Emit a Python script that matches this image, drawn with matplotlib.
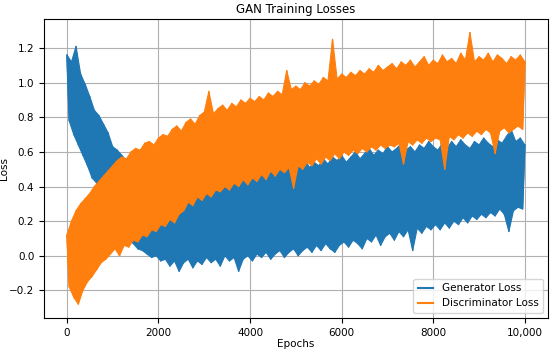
import numpy as np
import matplotlib
matplotlib.use("Agg")
from matplotlib import pyplot as plt

# envelope values
# peaks at epochs 0, 100, ..., 10000 ; troughs at 50, 150, ..., 9950
peak_epochs = np.arange(0, 10001, 100)
trough_epochs = np.arange(50, 10000, 100)

gen_peaks = [1.16, 1.12, 1.21, 1.05, 0.99, 0.92, 0.84, 0.81, 0.76, 0.71,
             0.63, 0.61, 0.58, 0.55, 0.53, 0.50, 0.49, 0.47, 0.45, 0.44,
             0.43, 0.40, 0.42, 0.39, 0.41, 0.43, 0.38, 0.42, 0.40, 0.44,
             0.41, 0.43, 0.46, 0.42, 0.44, 0.47, 0.43, 0.45, 0.48, 0.44,
             0.46, 0.49, 0.45, 0.58, 0.47, 0.50, 0.48, 0.51, 0.49, 0.53,
             0.50, 0.52, 0.55, 0.51, 0.54, 0.52, 0.56, 0.53, 0.57, 0.55,
             0.58, 0.54, 0.57, 0.60, 0.56, 0.59, 0.62, 0.58, 0.61, 0.59,
             0.63, 0.60, 0.62, 0.65, 0.61, 0.63, 0.60, 0.64, 0.62, 0.66,
             0.63, 0.61, 0.65, 0.62, 0.66, 0.63, 0.67, 0.64, 0.62, 0.66,
             0.64, 0.68, 0.65, 0.63, 0.67, 0.65, 0.69, 0.73, 0.66, 0.68,
             0.64]
gen_troughs = [0.78, 0.70, 0.64, 0.58, 0.52, 0.45, 0.42, 0.38, 0.34, 0.30,
               0.25, 0.20, 0.16, 0.11, 0.07, 0.04, 0.03, 0.01, -0.01, 0.00,
               -0.03, -0.02, -0.06, -0.03, -0.09, -0.04, -0.02, -0.07, -0.03, -0.05,
               -0.01, -0.04, -0.02, -0.06, 0.00, -0.03, -0.01, -0.09, -0.02, 0.00,
               -0.03, 0.01, -0.01, 0.02, -0.02, 0.01, 0.03, -0.01, 0.02, 0.04,
               0.00, 0.03, 0.05, 0.02, 0.06, 0.03, 0.07, 0.04, 0.02, 0.06,
               0.08, 0.05, 0.09, 0.07, 0.04, 0.10, 0.08, 0.12, 0.06, 0.11,
               0.13, 0.09, 0.14, 0.11, 0.15, 0.03, 0.16, 0.13, 0.17, 0.15,
               0.18, 0.15, 0.19, 0.16, 0.20, 0.18, 0.22, 0.19, 0.23, 0.21,
               0.24, 0.22, 0.25, 0.23, 0.27, 0.24, 0.14, 0.26, 0.28, 0.27]

disc_peaks = [0.12, 0.20, 0.26, 0.30, 0.33, 0.36, 0.40, 0.43, 0.46, 0.49,
              0.52, 0.55, 0.57, 0.56, 0.60, 0.62, 0.61, 0.65, 0.66, 0.64,
              0.68, 0.70, 0.69, 0.73, 0.75, 0.72, 0.77, 0.79, 0.76, 0.81,
              0.83, 0.95, 0.82, 0.85, 0.87, 0.84, 0.88, 0.86, 0.90, 0.88,
              0.91, 0.89, 0.92, 0.90, 0.94, 0.92, 0.95, 0.93, 1.07, 0.96,
              0.98, 0.96, 1.00, 0.98, 1.01, 0.99, 1.03, 1.01, 1.25, 1.02,
              1.05, 1.03, 1.06, 1.04, 1.07, 1.05, 1.08, 1.06, 1.10, 1.07,
              1.09, 1.11, 1.08, 1.12, 1.10, 1.13, 1.09, 1.12, 1.15, 1.10,
              1.13, 1.11, 1.16, 1.12, 1.14, 1.11, 1.17, 1.13, 1.29, 1.12,
              1.15, 1.13, 1.17, 1.12, 1.16, 1.14, 1.11, 1.15, 1.13, 1.16,
              1.12]
disc_troughs = [-0.18, -0.24, -0.28, -0.20, -0.15, -0.12, -0.08, -0.04, -0.02, 0.01,
                0.04, 0.00, 0.06, 0.05, 0.09, 0.08, 0.12, 0.11, 0.15, 0.14,
                0.18, 0.17, 0.21, 0.19, 0.24, 0.26, 0.31, 0.29, 0.34, 0.32,
                0.36, 0.34, 0.38, 0.37, 0.40, 0.38, 0.42, 0.40, 0.44, 0.41,
                0.45, 0.43, 0.47, 0.44, 0.49, 0.46, 0.50, 0.48, 0.51, 0.39,
                0.52, 0.50, 0.54, 0.52, 0.56, 0.53, 0.57, 0.55, 0.59, 0.56,
                0.60, 0.58, 0.61, 0.59, 0.62, 0.60, 0.63, 0.61, 0.64, 0.62,
                0.64, 0.63, 0.65, 0.53, 0.66, 0.64, 0.67, 0.65, 0.68, 0.66,
                0.68, 0.67, 0.50, 0.69, 0.67, 0.70, 0.68, 0.71, 0.69, 0.72,
                0.70, 0.73, 0.71, 0.59, 0.72, 0.74, 0.71, 0.73, 0.75, 0.73]

xtick_vals = [0, 2000, 4000, 6000, 8000, 10000]
xtick_labels = ["0", "2000", "4000", "6000", "8000", "10,000"]


def zigzag(peaks, troughs):
	# alternate peak / trough points in epoch order
	x = np.empty(len(peaks) + len(troughs))
	y = np.empty_like(x)
	x[0::2] = peak_epochs
	x[1::2] = trough_epochs
	y[0::2] = peaks
	y[1::2] = troughs
	return x, y


def draw_loss(ax, peaks, troughs, color, label, z):
	# band body: upper edge through the peaks, lower edge through the troughs
	bx = np.r_[peak_epochs, trough_epochs[::-1]]
	by = np.r_[peaks, troughs[::-1]]
	ax.fill(bx, by, color=color, lw=0.8, zorder=z)
	x, y = zigzag(peaks, troughs)
	ax.plot(x, y, color=color, lw=1.0, label=label, zorder=z + 0.1)


def main():
	fig = plt.figure(figsize=(5.5, 3.5), dpi=100)
	ax = fig.add_subplot(1, 1, 1)
	fig.subplots_adjust(left=0.08, right=0.996, top=0.946, bottom=0.092)

	draw_loss(ax, gen_peaks, gen_troughs, "#1f77b4", "Generator Loss", 2)
	draw_loss(ax, disc_peaks, disc_troughs, "#ff7f0e", "Discriminator Loss", 2.5)

	ax.set_title("GAN Training Losses", fontsize=8.5, pad=4)
	ax.set_xlabel("Epochs", fontsize=7.5, labelpad=1)
	ax.set_ylabel("Loss", fontsize=7.5)
	ax.yaxis.set_label_coords(-0.07, 0.5)
	ax.set_xticks(xtick_vals)
	ax.set_xticklabels(xtick_labels)
	ax.tick_params(labelsize=7.5)
	ax.set_axisbelow(True)
	ax.grid(True)
	leg = ax.legend(loc="lower right", fontsize=7.5, handlelength=1.5)
	leg.set_zorder(5)
	for h in leg.get_lines():
		h.set_linewidth(1.5)
	fig.savefig("out.png", dpi=100)


if __name__ == "__main__":
	main()
